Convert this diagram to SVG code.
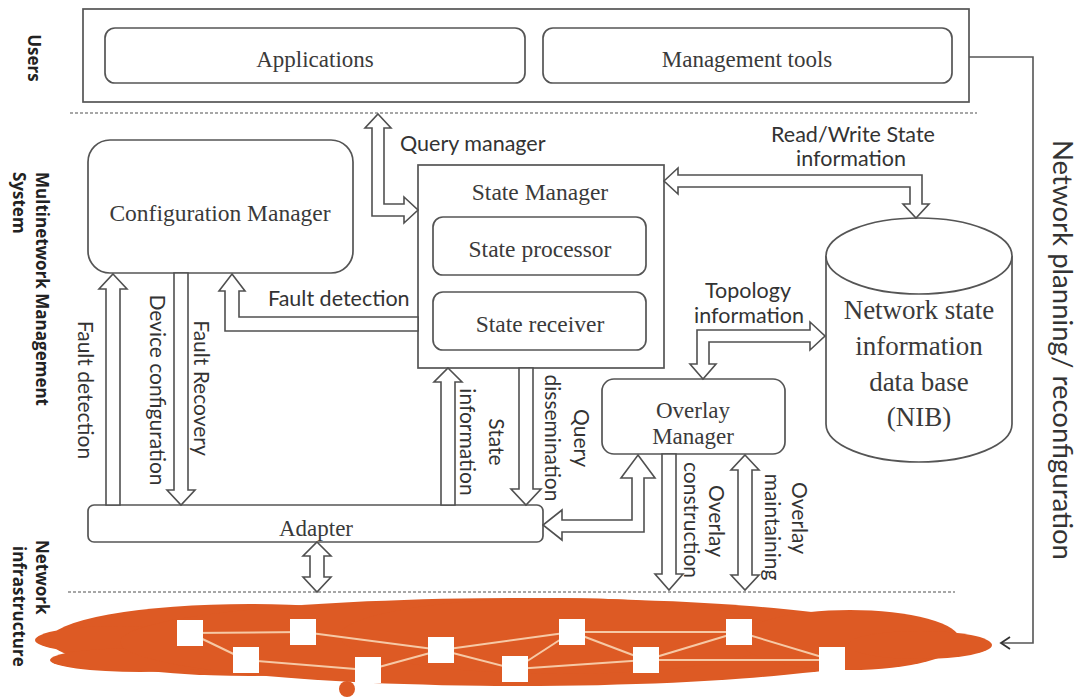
<svg xmlns="http://www.w3.org/2000/svg" width="1079" height="698" viewBox="0 0 1079 698">
<style>
.box{fill:#fff;stroke:#555;stroke-width:1.7}
.arr{fill:#fff;stroke:#505050;stroke-width:1.6;stroke-linejoin:miter}
.serif{font-family:"Liberation Serif",serif;fill:#3a3a3a;text-anchor:middle}
.sans{font-family:Lato,"Open Sans",sans-serif;fill:#333}
.side{font-family:"Open Sans",sans-serif;font-weight:bold;fill:#222;font-size:17px}
.dash{stroke:#8a8a8a;stroke-width:1.6;stroke-dasharray:3 2;fill:none}
.cloud{fill:#DD5A24}
.edge{stroke:#F6C9A6;stroke-width:2;fill:none}
.nd{fill:#fff}
</style>
<defs>
<marker id="open" markerWidth="14" markerHeight="14" refX="11" refY="7" orient="auto" markerUnits="userSpaceOnUse">
<path d="M2,1 L11,7 L2,13" fill="none" stroke="#333" stroke-width="1.8"/>
</marker>
</defs>
<rect width="1079" height="698" fill="#fff"/>

<!-- side labels -->
<g id="side-labels">
<text class="side" transform="translate(34,58) rotate(90)" text-anchor="middle" dominant-baseline="central">Users</text>
<text class="side" transform="translate(42,172) rotate(90)" dominant-baseline="central">Multinetwork Management</text>
<text class="side" transform="translate(19,172) rotate(90)" dominant-baseline="central">System</text>
<text class="side" transform="translate(42,540) rotate(90)" dominant-baseline="central">Network</text>
<text class="side" transform="translate(19,546) rotate(90)" dominant-baseline="central">infrastructure</text>
<text class="sans" font-size="26" textLength="420" lengthAdjust="spacingAndGlyphs" transform="translate(1063,350) rotate(90)" text-anchor="middle" dominant-baseline="central">Network planning/ reconfiguration</text>
</g>

<!-- dashed separators -->
<line class="dash" x1="70" y1="113" x2="977" y2="113"/>
<line class="dash" x1="68" y1="592" x2="955" y2="592"/>

<!-- cloud -->
<g id="network-infrastructure">
<ellipse class="cloud" cx="250" cy="640" rx="200" ry="36"/>
<ellipse class="cloud" cx="120" cy="640" rx="85" ry="14"/>
<ellipse class="cloud" cx="140" cy="660" rx="90" ry="12"/>
<ellipse class="cloud" cx="520" cy="642" rx="400" ry="44"/>
<ellipse class="cloud" cx="560" cy="636" rx="220" ry="38"/>
<ellipse class="cloud" cx="850" cy="640" rx="110" ry="30"/>
<ellipse class="cloud" cx="920" cy="645" rx="72" ry="14"/>
<circle class="cloud" cx="347" cy="689" r="8"/>
<g>
<line class="edge" x1="190" y1="633" x2="303" y2="632"/>
<line class="edge" x1="190" y1="633" x2="246" y2="660"/>
<line class="edge" x1="303" y1="632" x2="441" y2="650"/>
<line class="edge" x1="246" y1="660" x2="368" y2="670"/>
<line class="edge" x1="368" y1="670" x2="441" y2="650"/>
<line class="edge" x1="441" y1="650" x2="515" y2="669"/>
<line class="edge" x1="441" y1="650" x2="572" y2="632"/>
<line class="edge" x1="515" y1="669" x2="572" y2="632"/>
<line class="edge" x1="515" y1="669" x2="646" y2="660"/>
<line class="edge" x1="572" y1="632" x2="646" y2="660"/>
<line class="edge" x1="572" y1="632" x2="739" y2="632"/>
<line class="edge" x1="646" y1="660" x2="739" y2="632"/>
<line class="edge" x1="646" y1="660" x2="832" y2="660"/>
<line class="edge" x1="739" y1="632" x2="832" y2="660"/>
</g>
<rect class="nd" x="177" y="620" width="26" height="26"/>
<rect class="nd" x="290" y="619" width="26" height="26"/>
<rect class="nd" x="233" y="647" width="26" height="26"/>
<rect class="nd" x="355" y="657" width="26" height="26"/>
<rect class="nd" x="428" y="637" width="26" height="26"/>
<rect class="nd" x="502" y="656" width="26" height="26"/>
<rect class="nd" x="559" y="619" width="26" height="26"/>
<rect class="nd" x="633" y="647" width="26" height="26"/>
<rect class="nd" x="726" y="619" width="26" height="26"/>
<rect class="nd" x="819" y="647" width="26" height="26"/>
</g>

<!-- nodes -->
<g id="users">
<rect class="box" x="83" y="9" width="886" height="93" stroke-width="2"/>
</g>
<g id="applications">
<rect class="box" x="105" y="28" width="420" height="55" rx="10"/>
<text class="serif" x="315" y="67" font-size="23">Applications</text>
</g>
<g id="management-tools">
<rect class="box" x="543" y="28" width="409" height="55" rx="10"/>
<text class="serif" x="747" y="67" font-size="23">Management tools</text>
</g>
<g id="configuration-manager">
<rect class="box" x="88" y="140" width="265" height="133" rx="22"/>
<text class="serif" x="220" y="221" font-size="23.5">Configuration Manager</text>
</g>
<g id="state-manager">
<rect class="box" x="418" y="165" width="246" height="203"/>
<text class="serif" x="540" y="200" font-size="23.5">State Manager</text>
</g>
<g id="state-processor">
<rect class="box" x="433" y="217" width="213" height="58" rx="10"/>
<text class="serif" x="540" y="257" font-size="23.5">State processor</text>
</g>
<g id="state-receiver">
<rect class="box" x="433" y="292" width="213" height="58" rx="10"/>
<text class="serif" x="540" y="332" font-size="23.5">State receiver</text>
</g>
<g id="nib">
<path class="box" d="M826,256 L826,424 A93,38 0 0 0 1012,424 L1012,256 A93,38 0 0 0 826,256 Z"/>
<path class="box" d="M826,256 A93,38 0 0 0 1012,256" fill="none"/>
<text class="serif" x="919" y="319" font-size="27">Network state</text>
<text class="serif" x="919" y="355" font-size="27">information</text>
<text class="serif" x="919" y="391" font-size="27">data base</text>
<text class="serif" x="919" y="426" font-size="27">(NIB)</text>
</g>
<g id="overlay-manager">
<rect class="box" x="602" y="379" width="183" height="75" rx="12"/>
<text class="serif" x="693" y="418" font-size="23">Overlay</text>
<text class="serif" x="693" y="444" font-size="23">Manager</text>
</g>
<g id="adapter">
<rect class="box" x="88" y="505" width="455" height="37" rx="6"/>
<text class="serif" x="316" y="536" font-size="23">Adapter</text>
</g>

<!-- connectors -->
<g id="connectors">
<polygon class="arr" points="378,114 391,128 384,128 384,204 404,204 404,197 418,210 404,223 404,216 372,216 372,128 365,128"/>
<polygon class="arr" points="664,181 678,168 678,175 922,175 922,204 929,204 916,218 903,204 910,204 910,187 678,187 678,194"/>
<polygon class="arr" points="697,330 810,330 810,322 825,336 810,350 810,342 709,342 709,364 716,364 703,379 690,364 697,364"/>
<polygon class="arr" points="232,274 245,291 239,291 239,317 418,317 418,331 225,331 225,291 219,291"/>
<polygon class="arr" points="113,274 127,289 120,289 120,505 106,505 106,289 99,289"/>
<polygon class="arr" points="174,273 188,273 188,490 195,490 181,505 167,490 174,490"/>
<polygon class="arr" points="448,368 462,382 455,382 455,505 441,505 441,382 434,382"/>
<polygon class="arr" points="519,368 533,368 533,489 541,489 526,505 511,489 519,489"/>
<polygon class="arr" points="638,455 655,478 644,478 644,532 562,532 562,540 543,525 562,510 562,520 632,520 632,478 621,478"/>
<polygon class="arr" points="662,454 676,454 676,574 683,574 669,590 655,574 662,574"/>
<polygon class="arr" points="745,455 759,470 752,470 752,575 759,575 745,590 731,575 738,575 738,470 731,470"/>
<polygon class="arr" points="317,542 331,556 324,556 324,577 331,577 317,592 303,577 310,577 310,556 303,556"/>
<path d="M969,57 H1033 V643 H1001" fill="none" stroke="#555" stroke-width="1.6" marker-end="url(#open)"/>
</g>

<!-- connector labels -->
<g id="labels">
<text class="sans" x="400" y="151" font-size="21.5">Query manager</text>
<text class="sans" x="268" y="306" font-size="21.5">Fault detection</text>
<text class="sans" x="853" y="142" font-size="21.5" text-anchor="middle">Read/Write State</text>
<text class="sans" x="851" y="166" font-size="21.5" text-anchor="middle">information</text>
<text class="sans" x="748" y="298" font-size="21.5" text-anchor="middle">Topology</text>
<text class="sans" x="749" y="323" font-size="21.5" text-anchor="middle">information</text>
<text class="sans" font-size="21" transform="translate(86,390) rotate(90)" text-anchor="middle" dominant-baseline="central">Fault detection</text>
<text class="sans" font-size="21" transform="translate(158,390) rotate(90)" text-anchor="middle" dominant-baseline="central">Device configuration</text>
<text class="sans" font-size="21" transform="translate(202,388) rotate(90)" text-anchor="middle" dominant-baseline="central">Fault Recovery</text>
<text class="sans" font-size="21" transform="translate(497,442) rotate(90)" text-anchor="middle" dominant-baseline="central">State</text>
<text class="sans" font-size="21" transform="translate(468,442) rotate(90)" text-anchor="middle" dominant-baseline="central">information</text>
<text class="sans" font-size="21" transform="translate(582,438) rotate(90)" text-anchor="middle" dominant-baseline="central">Query</text>
<text class="sans" font-size="21" transform="translate(553,438) rotate(90)" text-anchor="middle" dominant-baseline="central">dissemination</text>
<text class="sans" font-size="21" transform="translate(717,521) rotate(90)" text-anchor="middle" dominant-baseline="central">Overlay</text>
<text class="sans" font-size="21" transform="translate(692,520) rotate(90)" text-anchor="middle" dominant-baseline="central">construction</text>
<text class="sans" font-size="21" transform="translate(800,518) rotate(90)" text-anchor="middle" dominant-baseline="central">Overlay</text>
<text class="sans" font-size="21" transform="translate(773,527) rotate(90)" text-anchor="middle" dominant-baseline="central">maintaining</text>
</g>
</svg>
